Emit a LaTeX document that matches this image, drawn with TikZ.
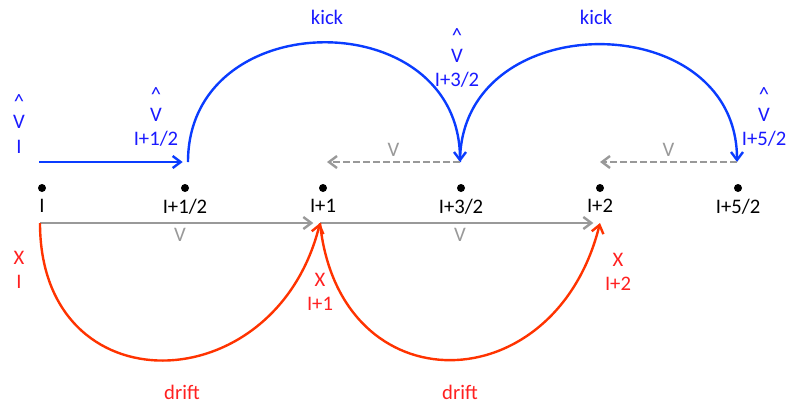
\documentclass[tikz,border=0pt]{standalone}
\usepackage{fontspec}
\setmainfont{Carlito}
\usepackage{xcolor}
\definecolor{kickblue}{HTML}{0A3CFF}
\definecolor{textblue}{HTML}{1A1AFF}
\definecolor{driftred}{HTML}{FF3300}
\definecolor{textred}{HTML}{FF2020}
\definecolor{velgray}{HTML}{999999}
\usetikzlibrary{arrows.meta}

\begin{document}
\begin{tikzpicture}[x=0.75pt,y=-0.75pt,>={Straight Barb[length=6pt,width=9pt]},line width=1.8pt,font=\fontsize{15.5}{18.5}\selectfont]
            \tikzstyle{dot}=[circle,fill=black,inner sep=0pt,minimum size=6pt]
            \tikzstyle{kk}=[->,color=kickblue]
            \tikzstyle{dr}=[->,color=driftred]
            \tikzstyle{vv}=[->,color=velgray]
            \tikzstyle{vlab}=[text=textblue,align=center,inner sep=0pt]
            \tikzstyle{xlab}=[text=textred,align=center,inner sep=0pt]

            \useasboundingbox (0,0) rectangle (787,408);

            % grid points
            \node[dot,label=below:I] (i0) at (42,188) {};
            \node[dot,label=below:I+1/2] (i05) at (185,188) {};
            \node[dot,label=below:I+1] (i1) at (323,188) {};
            \node[dot,label=below:I+3/2] (i15) at (461,188) {};
            \node[dot,label=below:I+2] (i2) at (600,188) {};
            \node[dot,label=below:I+5/2] (i25) at (738,188) {};

            \coordinate (k0) at (39,162);
            \coordinate (k05) at (188,162);
            \coordinate (k1) at (327,162);
            \coordinate (k15) at (460,162);
            \coordinate (k2) at (600,162);
            \coordinate (k25) at (737,162);
            \coordinate (d0) at (40,223);
            \coordinate (d1) at (320,223);
            \coordinate (d2) at (600,223);

            % velocities
            \node[vlab] (v0) at (19,124) {\textasciicircum\\[-3.5pt]V\\I};
            \node[vlab] (v05) at (156,117) {\textasciicircum\\[-3.5pt]V\\I+1/2};
            \node[vlab] (v15) at (457,58) {\textasciicircum\\[-3.5pt]V\\I+3/2};
            \node[vlab] (v25) at (764,117) {\textasciicircum\\[-3.5pt]V\\I+5/2};

            % positions
            \node[xlab] (x0) at (19,270) {X\\I};
            \node[xlab] (x1) at (320,292) {X\\I+1};
            \node[xlab] (x2) at (618,272) {X\\I+2};

            \node[text=textblue] (kick1) at (327,17) {kick};
            \node[text=textblue] (kick2) at (596,17) {kick};
            \node[text=textred] (drift1) at (182,392) {drift};
            \node[text=textred] (drift2) at (460,392) {drift};

            \path   (k0) edge [kk, shorten >=4pt] (k05)
                    (k05) edge [kk, out=90, in=90, looseness=1.5] (k15)
                    (k15) edge [kk, out=90, in=90, looseness=1.45] (k25)
                    (k15) edge [vv, dash pattern=on 5pt off 2.5pt] node[above, text=velgray] {V} (k1)
                    (k25) edge [vv, dash pattern=on 5pt off 2.5pt] node[above, text=velgray] {V} (k2)
                    (d0) edge [vv, shorten >=5pt] node[below, text=velgray] {V} (d1)
                    (d1) edge [vv, shorten >=5pt] node[below, text=velgray] {V} (d2)
                    (d0) edge [dr, out=-90, in=-104, looseness=1.7] (d1)
                    (d1) edge [dr, out=-84, in=-104, looseness=1.7] (d2);
        \end{tikzpicture}
\end{document}
